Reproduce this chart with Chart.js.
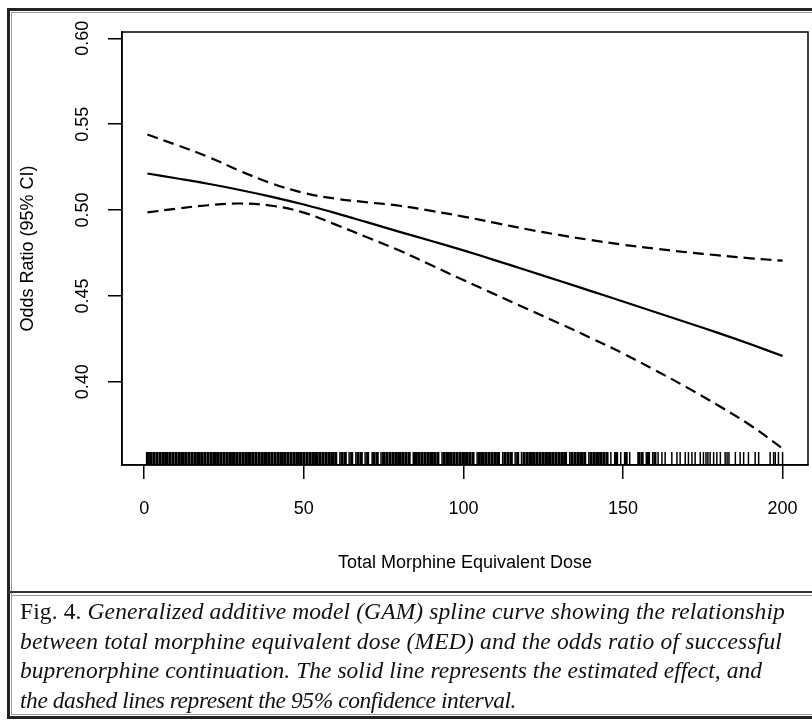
<!DOCTYPE html>
<html><head><meta charset="utf-8">
<script src="https://cdn.jsdelivr.net/npm/chart.js@4/dist/chart.umd.min.js"></script>
<style>
html,body{margin:0;padding:0;background:#fff;}
body{width:812px;height:721px;position:relative;overflow:hidden;}
#c{position:absolute;left:0;top:0;}
.fr{position:absolute;box-sizing:border-box;pointer-events:none;}
#outer{left:7px;top:8px;width:830px;height:711px;border:3px solid #222;border-right:none;}
#inner{left:11px;top:12px;width:830px;height:703px;border:1px solid #999;border-right:none;}
#sep1{left:7px;top:591px;width:820px;height:2px;background:#333;}
#sep2{left:11px;top:595px;width:820px;height:1px;background:#999;}
#cap{position:absolute;left:20px;top:597px;font-family:"Liberation Serif",serif;font-size:23.5px;line-height:29.6px;color:#111;white-space:nowrap;}
#cap span.l{display:block;}
#cap i{font-style:italic;}
</style></head>
<body>
<canvas id="c" width="812" height="590"></canvas>
<div class="fr" id="outer"></div>
<div class="fr" id="inner"></div>
<div class="fr" id="sep1"></div>
<div class="fr" id="sep2"></div>
<div id="cap"><span class="l" data-w="765">Fig. 4. <i>Generalized additive model (GAM) spline curve showing the relationship</i></span><span class="l" data-w="762"><i>between total morphine equivalent dose (MED) and the odds ratio of successful</i></span><span class="l" data-w="742"><i>buprenorphine continuation. The solid line represents the estimated effect, and</i></span><span class="l" data-w="496"><i>the dashed lines represent the 95% confidence interval.</i></span></div>
<script>
const xTicks = [0, 50, 100, 150, 200];
const yTicks = [0.40, 0.45, 0.50, 0.55, 0.60];
const dose = [1, 10, 20, 30, 40, 50, 60, 70, 80, 90, 100, 110, 120, 130, 140, 150, 160, 170, 180, 190, 200];
const estimate = [0.5213, 0.5185, 0.5153, 0.5117, 0.5077, 0.5032, 0.4982, 0.4928, 0.4873, 0.4820, 0.4765, 0.4707, 0.4648, 0.4588, 0.4528, 0.4467, 0.4406, 0.4345, 0.4283, 0.4218, 0.4150];
const upperCI = [0.5440, 0.5380, 0.5310, 0.5228, 0.5155, 0.5100, 0.5066, 0.5045, 0.5025, 0.4995, 0.4962, 0.4925, 0.4888, 0.4855, 0.4825, 0.4798, 0.4775, 0.4754, 0.4736, 0.4719, 0.4705];
const lowerCI = [0.4986, 0.5008, 0.5028, 0.5038, 0.5025, 0.4985, 0.4915, 0.4840, 0.4764, 0.4678, 0.4592, 0.4508, 0.4424, 0.4340, 0.4254, 0.4165, 0.4068, 0.3967, 0.3860, 0.3745, 0.3611];
const rugDense = [1,2,3,4,5,6,7,8,9,10,11,12,13,14,15,16,17,18,19,20,21,22,23,24,25,26,27,28,29,30,31,32,33,34,35,36,37,38,39,40,41,42,43,44,45,46,47,48,49,50,51,52,53,54,55,56,57,58,59,
  60,62,63,65,67,68,70,72,73,
  75,76,77,78,79,80,81,82,83,85,86,87,88,89,90,91,92,94,95,96,97,98,99,100,101,102,103,105,106,107,108,109,110,111,113,114,
  115,117,119,120,
  121,122,123,124,125,126,127,128,129,130,131,132,134,135,136,137,138,140,141,142,143,144,145,
  148,151,155,156,158,160];
const rugSparse = [61.3,64.2,66.3,69.2,71.4,74.2,
  84.3,93.3,104.3,112.3,
  116.2,118.2,
  133.3,139.3,
  146.2,147.4,149.3,150.5,152.1,154.8,157.3,159.3,161,
  162.2,163.2,165.3,166.9,167.9,169.5,170.5,171.6,172.6,174.2,175.2,176,176.6,177.3,178.4,179.4,180.5,182,182.6,183.2,185.2,186.7,187.8,189.3,191.4,192.5,196.1,197.2,197.7,198.7,200];

const X_MIN = -6.96, X_MAX = 207.96, Y_MIN = 0.3515, Y_MAX = 0.6037;
const RUG_Y = Y_MIN + 0.0038;
const FONT = {family: '"Liberation Sans", Arial, sans-serif', size: 18};

function curve(vals){ return dose.map((d,i)=>({x:d, y:vals[i]})); }
function rug(vals){ return vals.map(d=>({x:d, y:RUG_Y})); }

const boxPlugin = {
  id: 'box',
  afterDraw(chart){
    const {ctx, chartArea:a} = chart;
    ctx.save();
    ctx.strokeStyle = '#000';
    ctx.lineWidth = 1.5;
    ctx.strokeRect(a.left, a.top, a.right - a.left, a.bottom - a.top);
    ctx.restore();
  }
};

const lineStyle = {borderColor:'#000', borderWidth:2.2, pointRadius:0, fill:false, tension:0.4};
const rugStyle = {showLine:false, pointStyle:'line', pointRotation:90, pointRadius:6.5, pointHoverRadius:6.5, pointBorderColor:'#000', pointBackgroundColor:'#000'};

new Chart(document.getElementById('c'), {
  type: 'line',
  data: {
    datasets: [
      Object.assign({label:'Estimate', data: curve(estimate)}, lineStyle),
      Object.assign({label:'Upper 95% CI', data: curve(upperCI), borderDash:[11,6]}, lineStyle),
      Object.assign({label:'Lower 95% CI', data: curve(lowerCI), borderDash:[11,6]}, lineStyle),
      Object.assign({label:'Rug dense', data: rug(rugDense), pointBorderWidth:3.1}, rugStyle),
      Object.assign({label:'Rug', data: rug(rugSparse), pointBorderWidth:1.5}, rugStyle)
    ]
  },
  options: {
    responsive:false, animation:false,
    layout:{autoPadding:false, padding:{left:0, right:4, top:32, bottom:0}},
    plugins:{legend:{display:false}, tooltip:{enabled:false}},
    scales:{
      x:{
        type:'linear', position:'bottom', min:X_MIN, max:X_MAX,
        afterBuildTicks: s => { s.ticks = xTicks.map(v=>({value:v})); },
        afterFit: s => { s.height = 125; s.paddingLeft = 0; s.paddingRight = 0; },
        ticks:{font:FONT, color:'#000', padding:19, maxRotation:0, autoSkip:false, callback:v=>String(v)},
        grid:{display:true, drawOnChartArea:false, drawTicks:true, tickLength:14, color:'#000', lineWidth:1.5},
        border:{display:true, color:'#000', width:1.5},
        title:{display:true, text:'Total Morphine Equivalent Dose', font:FONT, color:'#000', padding:{top:0, bottom:16}}
      },
      y:{
        type:'linear', position:'left', min:Y_MIN, max:Y_MAX,
        afterBuildTicks: s => { s.ticks = yTicks.map(v=>({value:v})); },
        afterFit: s => { s.width = 122; s.paddingTop = 0; s.paddingBottom = 0; },
        ticks:{font:FONT, color:'#000', padding:7.5, minRotation:90, maxRotation:90, crossAlign:'center', autoSkip:false, callback:v=>v.toFixed(2)},
        grid:{display:true, drawOnChartArea:false, drawTicks:true, tickLength:14, color:'#000', lineWidth:1.5},
        border:{display:true, color:'#000', width:1.5},
        title:{display:true, text:'Odds Ratio (95% CI)', font:FONT, color:'#000', padding:{top:17, bottom:0}}
      }
    }
  },
  plugins:[boxPlugin]
});

// fit caption lines to their widths in the reference
document.querySelectorAll('#cap span.l').forEach(el => {
  const target = +el.dataset.w;
  el.style.display = 'inline-block';
  const w = el.getBoundingClientRect().width;
  const n = el.textContent.length;
  el.style.letterSpacing = ((target - w) / n).toFixed(3) + 'px';
  el.style.display = 'block';
});
</script>
</body></html>
